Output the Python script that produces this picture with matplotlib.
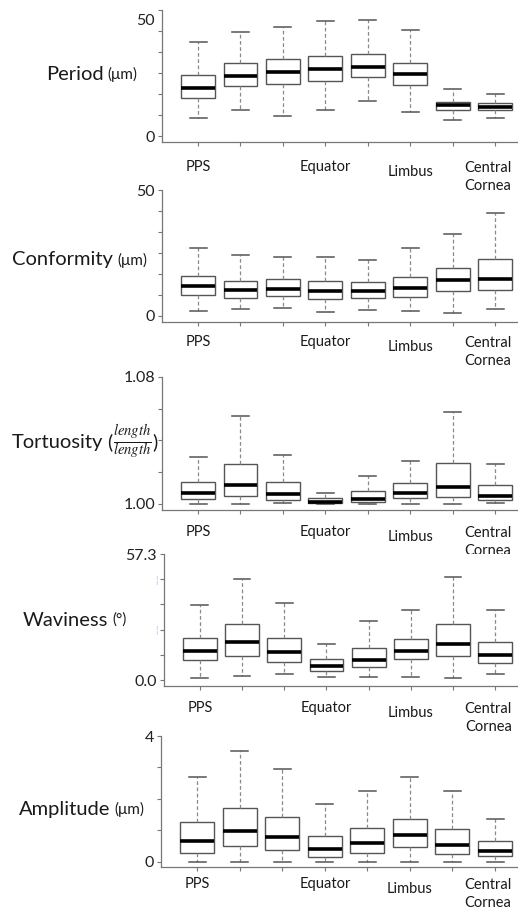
#!/usr/bin/env python3
"""Fibre morphology by region: five stacked box plots (period, conformity,
tortuosity, waviness, amplitude) across the eight sampling sites."""

import matplotlib
matplotlib.use("Agg")
import matplotlib.pyplot as plt
import numpy as np

plt.rcParams["font.family"] = ["Lato", "DejaVu Sans"]
plt.rcParams["mathtext.fontset"] = "stix"

W, H = 518, 910

SITES = [1, 2, 3, 4, 5, 6, 7, 8]
SITE_LABELS = {1: "PPS", 4: "Equator", 6: "Limbus", 8: "Central\nCornea"}

# per box: (lower whisker, q1, median, q3, upper whisker)
PERIOD = [
    (7.6, 16.2, 20.5, 26.2, 40.5),
    (11.0, 21.4, 25.6, 31.1, 44.6),
    (8.7, 22.4, 27.6, 32.8, 46.9),
    (11.0, 23.7, 28.8, 34.5, 49.4),
    (14.8, 25.1, 29.5, 35.2, 49.7),
    (10.3, 21.9, 26.6, 31.5, 45.6),
    (6.8, 11.1, 13.3, 14.7, 20.1),
    (7.6, 11.0, 12.5, 14.1, 18.2),
]
CONFORMITY = [
    (2.1, 8.2, 11.9, 16.0, 26.9),
    (2.6, 7.1, 10.5, 13.9, 24.2),
    (3.0, 7.8, 10.7, 14.6, 23.3),
    (1.5, 6.7, 9.9, 13.9, 23.3),
    (2.4, 7.0, 9.9, 13.4, 22.4),
    (2.1, 7.7, 11.2, 15.6, 26.9),
    (1.2, 10.1, 14.3, 19.2, 32.5),
    (2.6, 10.2, 14.8, 22.8, 40.7),
]
TORTUOSITY = [
    (1.0000, 1.0031, 1.0067, 1.0140, 1.0299),
    (1.0000, 1.0048, 1.0117, 1.0251, 1.0556),
    (1.0004, 1.0027, 1.0061, 1.0140, 1.0307),
    (1.0000, 1.0006, 1.0015, 1.0036, 1.0069),
    (1.0000, 1.0013, 1.0033, 1.0079, 1.0176),
    (1.0000, 1.0038, 1.0067, 1.0132, 1.0272),
    (1.0000, 1.0046, 1.0109, 1.0261, 1.0581),
    (1.0004, 1.0023, 1.0052, 1.0117, 1.0253),
]
WAVINESS = [
    (1.1, 8.9, 13.2, 19.3, 34.1),
    (1.7, 11.1, 17.3, 25.3, 45.9),
    (2.6, 8.0, 12.6, 19.0, 34.9),
    (1.4, 4.2, 6.4, 9.6, 16.4),
    (1.4, 5.9, 9.1, 14.4, 26.7),
    (1.4, 9.4, 13.2, 18.5, 31.7),
    (1.1, 10.8, 16.5, 25.3, 47.0),
    (2.6, 7.7, 11.5, 17.1, 31.7),
]
AMPLITUDE = [
    (0.0, 0.29, 0.65, 1.26, 2.70),
    (0.0, 0.52, 0.99, 1.71, 3.51),
    (0.0, 0.37, 0.79, 1.42, 2.96),
    (0.0, 0.16, 0.40, 0.84, 1.85),
    (0.0, 0.29, 0.61, 1.07, 2.25),
    (0.0, 0.48, 0.86, 1.38, 2.70),
    (0.0, 0.25, 0.54, 1.05, 2.25),
    (0.0, 0.19, 0.35, 0.68, 1.38),
]

PERIOD_TICKS = np.arange(0, 55, 9)
CONFORMITY_TICKS = np.linspace(0, 50, 7)
TORTUOSITY_TICKS = np.linspace(1.00, 1.08, 5)
WAVINESS_TICKS = np.linspace(0, 57.3, 6)
AMPLITUDE_TICKS = np.arange(0, 5, 1)

MU = [("(\u03bcm)", 11)]
# name, unit pieces (text, size), data, ticks, tick labels, ylim, layout (px):
# axes left, top, bottom, y-label left x, y-label centre y, site-label drop
PANELS = [
    ("Period", MU, PERIOD, PERIOD_TICKS, {0: "0"}, (-2.57, 54),
     (162, 10, 142, 46, 74, 25)),
    ("Conformity", MU, CONFORMITY, CONFORMITY_TICKS, {0: "0", 6: "50"}, (-2.4, 50),
     (162, 190, 322, 12, 260, 20)),
    ("Tortuosity", [("(", 14), (r"$\frac{length}{length}$", 15), (")", 14)],
     TORTUOSITY, TORTUOSITY_TICKS, {0: "1.00", 4: "1.08"}, (0.9962, 1.08),
     (162, 377, 510, 12, 442, 22)),
    ("Waviness", [("(\u00b0)", 11)], WAVINESS, WAVINESS_TICKS, {0: "0.0", 5: "57.3"},
     (-2.7, 57.3), (164, 554, 686, 23, 620, 22)),
    ("Amplitude", MU, AMPLITUDE, AMPLITUDE_TICKS, {0: "0", 4: "4"}, (-0.16, 4),
     (161, 736, 867, 19, 809, 17)),
]

fig = plt.figure(figsize=(W / 100, H / 100), dpi=100)
renderer = fig.canvas.get_renderer()

for name, unit, data, ticks, labels, ylim, (left, top, bottom, lx, ly, drop) in PANELS:
    ax = fig.add_axes([left / W, 1 - bottom / H, 1 - left / W, (bottom - top) / H])
    stats = [dict(whislo=lo, q1=q1, med=md, q3=q3, whishi=hi, fliers=[])
             for lo, q1, md, q3, hi in data]
    ax.bxp(stats, positions=SITES, widths=0.8, patch_artist=True,
           boxprops=dict(facecolor="white", edgecolor="#555555", lw=1.0),
           whiskerprops=dict(color="#8a8a8a", lw=0.9, ls=(0, (3, 2))),
           capprops=dict(color="#555555", lw=1.1),
           medianprops=dict(color="black", lw=2.6))
    ax.set_xlim(0.15, 8.54)
    ax.set_ylim(*ylim)
    ax.set_xticks(SITES, labels=[""] * len(SITES))

    tl = [labels.get(i, "") for i in range(len(ticks))]
    if name == "Waviness":
        tl[2] = tl[4] = "\u00a6"
    ax.set_yticks(ticks, labels=tl)
    if name == "Period":
        ax.set_yticks([50], labels=["50"], minor=True)
        ax.tick_params(axis="y", which="minor", length=0, pad=5.5, labelsize=11.5,
                       labelcolor="#222222")

    ax.tick_params(axis="both", which="major", length=3, width=0.8, color="#777777",
                   labelsize=11.5, pad=2)
    for i, t in enumerate(ax.get_yticklabels()):
        if name == "Waviness" and i in (2, 4):
            t.set_color("#9dbcdc")
            t.set_fontsize(7)
        else:
            t.set_color("#222222")
    for s in ("top", "right"):
        ax.spines[s].set_visible(False)
    for s in ("left", "bottom"):
        ax.spines[s].set_color("#777777")
        ax.spines[s].set_linewidth(0.9)

    for x, lab in SITE_LABELS.items():
        off, dx = drop, 0
        if lab == "Limbus":
            off += 5
        elif "\n" in lab:
            off += 10
            dx = -5
        ax.annotate(lab, xy=(x, 0), xycoords=("data", "axes fraction"),
                    xytext=(dx, -off * 0.72), textcoords="offset points",
                    ha="center", va="center", fontsize=10.5, color="#1a1a1a",
                    linespacing=1.4)

    t = fig.text(lx / W, 1 - ly / H, name, fontsize=14.5, ha="left", va="center",
                 color="#1a1a1a")
    x0 = t.get_window_extent(renderer).x1 + 4
    for piece, size in unit:
        u = fig.text(x0 / W, 1 - ly / H, piece, fontsize=size, ha="left",
                     va="center", color="#1a1a1a")
        x0 = u.get_window_extent(renderer).x1 + 0.5

fig.savefig("out.png", dpi=100)
